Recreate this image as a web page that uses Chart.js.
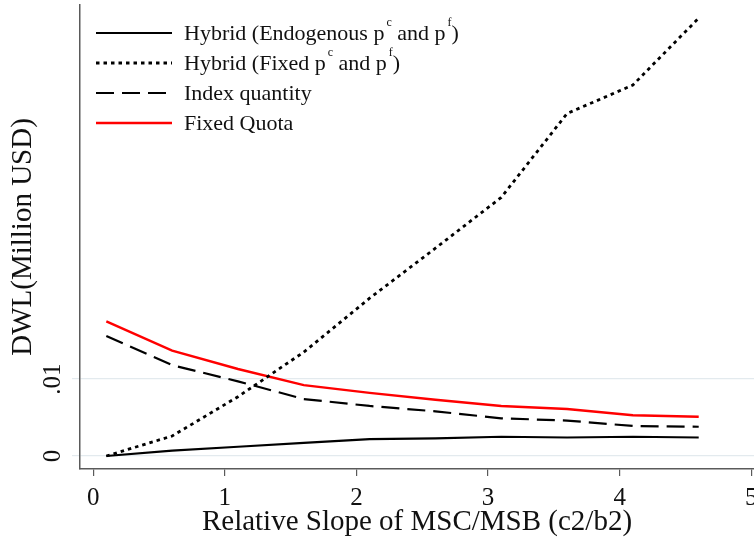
<!DOCTYPE html>
<html>
<head>
<meta charset="utf-8">
<script src="https://cdn.jsdelivr.net/npm/chart.js@4/dist/chart.umd.min.js"></script>
<style>
  html, body { margin: 0; padding: 0; background: #fff; }
</style>
</head>
<body>
<canvas id="dwl" width="754" height="544"></canvas>
<script>
const slopes = [0.1, 0.6, 1.1, 1.6, 2.1, 2.6, 3.1, 3.6, 4.1, 4.6]
const hybridEndog = [0, 0.0007, 0.0012, 0.0017, 0.0022, 0.0023, 0.0025, 0.0024, 0.0025, 0.0024]
const hybridFixed = [0, 0.0026, 0.0077, 0.0135, 0.0205, 0.0270, 0.0336, 0.0445, 0.0482, 0.0569]
const indexQty = [0.0156, 0.0118, 0.0097, 0.0074, 0.0065, 0.0058, 0.0049, 0.0046, 0.0039, 0.0038]
const fixedQuota = [0.0175, 0.0137, 0.0113, 0.0092, 0.0082, 0.0073, 0.0065, 0.0061, 0.0053, 0.0051]
const xTicks = [0, 1, 2, 3, 4, 5]
const yTicks = [0, 0.01]
const yTickText = ['0', '.01']

const serif = '"Liberation Serif", "Times New Roman", serif'
const axisGrey = '#5a5a5a'

const toPoints = (ys) => ys.map((y, i) => ({x: slopes[i], y: y}))

// legend drawn inside the plot, top left, like the Stata original
const insideLegend = {
  id: 'insideLegend',
  afterDatasetsDraw(chart) {
    const ctx = chart.ctx
    const x0 = 96, x1 = 172, tx = 184
    const rows = [33, 63, 93, 123]
    ctx.save()
    chart.data.datasets.forEach((ds, i) => {
      const y = rows[i]
      ctx.beginPath()
      ctx.setLineDash(ds.borderDash || [])
      ctx.lineWidth = ds.borderWidth
      ctx.strokeStyle = ds.borderColor
      ctx.moveTo(x0, y)
      ctx.lineTo(x1, y)
      ctx.stroke()
      ctx.setLineDash([])
      ctx.fillStyle = '#111'
      ctx.textBaseline = 'middle'
      let x = tx
      ds.label.split(/(\^\w)/).forEach((part) => {
        if (!part) return
        if (part[0] === '^') {
          ctx.font = '12px ' + serif
          ctx.fillText(part[1], x + 2, y - 10)
          x += ctx.measureText(part[1]).width + 2
        } else {
          ctx.font = '22px ' + serif
          ctx.fillText(part, x, y + 1)
          x += ctx.measureText(part).width
        }
      })
    })
    ctx.restore()
  }
}

// rotated y tick labels, placed from the y scale
const yTickLabels = {
  id: 'yTickLabels',
  afterDraw(chart) {
    const ctx = chart.ctx
    const ys = chart.scales.y
    ctx.save()
    ctx.fillStyle = '#111'
    ctx.font = '25px ' + serif
    ctx.textAlign = 'center'
    ctx.textBaseline = 'middle'
    yTicks.forEach((v, i) => {
      ctx.save()
      ctx.translate(53, ys.getPixelForValue(v))
      ctx.rotate(-Math.PI / 2)
      ctx.fillText(yTickText[i], 0, 0)
      ctx.restore()
    })
    ctx.restore()
  }
}

new Chart(document.getElementById('dwl'), {
  type: 'line',
  data: {
    datasets: [{
      label: 'Hybrid (Endogenous p^c and p^f)',
      data: toPoints(hybridEndog),
      borderColor: '#000',
      borderWidth: 2.2,
    }, {
      label: 'Hybrid (Fixed p^c and p^f)',
      data: toPoints(hybridFixed),
      borderColor: '#000',
      borderWidth: 2.8,
      borderDash: [3.5, 4],
    }, {
      label: 'Index quantity',
      data: toPoints(indexQty),
      borderColor: '#000',
      borderWidth: 2.2,
      borderDash: [18, 8],
    }, {
      label: 'Fixed Quota',
      data: toPoints(fixedQuota),
      borderColor: '#ff0000',
      borderWidth: 2.4,
    }]
  },
  options: {
    responsive: false,
    animation: false,
    layout: {padding: {top: 5, right: 0, left: 0, bottom: 0}},
    elements: {point: {radius: 0}, line: {tension: 0}},
    plugins: {legend: {display: false}, tooltip: {enabled: false}},
    scales: {
      x: {
        type: 'linear',
        min: -0.1,
        max: 5.02,
        afterBuildTicks: (s) => { s.ticks = xTicks.map((v) => ({value: v})) },
        afterFit: (s) => { s.height = 75; s.paddingLeft = 0; s.paddingRight = 0 },
        grid: {drawOnChartArea: false, drawTicks: true, tickLength: 7, color: axisGrey, lineWidth: 1.2},
        border: {display: true, color: axisGrey, width: 1.5},
        ticks: {color: '#111', font: {family: serif, size: 25}, padding: 7, maxRotation: 0},
        title: {display: true, text: 'Relative Slope of MSC/MSB (c2/b2)', color: '#111', font: {family: serif, size: 29}, padding: {top: 0, bottom: 4}},
      },
      y: {
        type: 'linear',
        min: -0.00169,
        max: 0.0586,
        afterBuildTicks: (s) => { s.ticks = yTicks.map((v) => ({value: v})) },
        afterFit: (s) => { s.width = 80; s.paddingTop = 0; s.paddingBottom = 0 },
        grid: {drawOnChartArea: true, drawTicks: true, tickLength: 8, color: '#e3eaee', lineWidth: 1.2},
        border: {display: true, color: axisGrey, width: 1.5},
        ticks: {display: false},
        title: {display: true, text: 'DWL(Million USD)', color: '#111', font: {family: serif, size: 29}, padding: {top: 6, bottom: 4}},
      },
    },
  },
  plugins: [insideLegend, yTickLabels],
})
</script>
</body>
</html>
